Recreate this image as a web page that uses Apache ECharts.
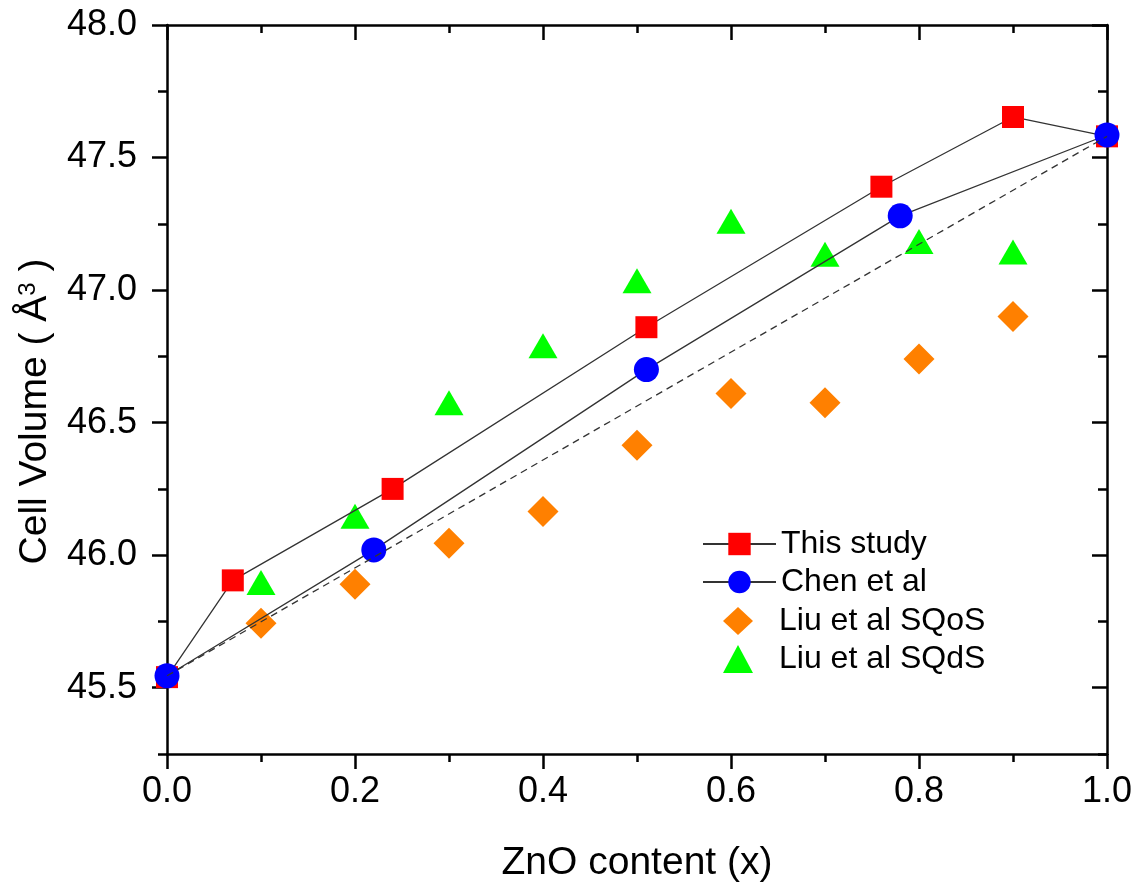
<!DOCTYPE html>
<html>
<head>
<meta charset="utf-8">
<script src="https://cdn.jsdelivr.net/npm/echarts@6/dist/echarts.min.js"></script>
<style>
html,body{margin:0;padding:0;background:#fff;}
#chart{width:1143px;height:888px;}
</style>
</head>
<body>
<div id="chart"></div>
<script>
// ---- data ----
const lineNames = ['This study', 'Chen et al'];
const scatterNames = ['Liu et al SQoS', 'Liu et al SQdS'];
const thisX = [0, 0.07, 0.24, 0.51, 0.76, 0.9, 1.0];
const thisY = [45.54, 45.905, 46.25, 46.86, 47.39, 47.653, 47.58];
const chenX = [0, 0.22, 0.51, 0.78, 1.0];
const chenY = [45.545, 46.02, 46.70, 47.28, 47.585];
const liuX = [0.1, 0.2, 0.3, 0.4, 0.5, 0.6, 0.7, 0.8, 0.9];
const sqosY = [45.743, 45.89, 46.045, 46.165, 46.415, 46.61, 46.575, 46.74, 46.90];
const sqdsY = [45.897, 46.147, 46.575, 46.79, 47.035, 47.26, 47.135, 47.183, 47.144];
const vegardX = [0, 1.0];
const vegardY = [45.545, 47.58];
const xTicks = [0, 0.2, 0.4, 0.6, 0.8, 1.0];
const yMajor = [45.5, 46.0, 46.5, 47.0, 47.5, 48.0];
const yMinor = [45.25, 45.75, 46.25, 46.75, 47.25, 47.75];

const zip = (xs, ys) => xs.map((x, i) => [x, ys[i]]);

const FONT = 'Liberation Sans, Arial, sans-serif';
const AX = {color: '#000', width: 2.5};

const yBase = {
  type: 'value', min: 45.25, max: 48.0, interval: 0.25,
  splitLine: {show: false}
};
const xBase = {
  type: 'value', min: xTicks[0], max: xTicks[xTicks.length - 1], interval: 0.2,
  splitLine: {show: false}
};

const chart = echarts.init(document.getElementById('chart'), null, {renderer: 'canvas'});
chart.setOption({
  backgroundColor: '#fff',
  animation: false,
  grid: {left: 167, right: 36, top: 25, bottom: 131, containLabel: false},
  legend: [
    {
      data: lineNames,
      orient: 'vertical',
      left: 697, top: 523,
      itemWidth: 73, itemHeight: 28, itemGap: 6,
      textStyle: {fontFamily: FONT, fontSize: 32, color: '#000', lineHeight: 32}
    },
    {
      data: scatterNames,
      orient: 'vertical',
      left: 718, top: 600,
      itemWidth: 30, itemHeight: 28, itemGap: 6,
      textStyle: {fontFamily: FONT, fontSize: 32, color: '#000', lineHeight: 32, padding: [0, 0, 0, 21]}
    }
  ],
  xAxis: [
    Object.assign({}, xBase, {
      position: 'bottom',
      name: 'ZnO content (x)', nameLocation: 'middle', nameGap: 90,
      nameTextStyle: {fontFamily: FONT, fontSize: 39, color: '#000'},
      axisLine: {show: true, lineStyle: AX},
      axisTick: {show: true, inside: false, length: 15, lineStyle: AX},
      minorTick: {show: true, splitNumber: 2, length: 8, lineStyle: AX},
      axisLabel: {fontFamily: FONT, fontSize: 36, color: '#000', margin: 20,
        formatter: v => v.toFixed(1)}
    }),
    Object.assign({}, xBase, {
      position: 'top',
      axisLine: {show: true, lineStyle: AX},
      axisTick: {show: true, inside: true, length: 15, lineStyle: AX},
      minorTick: {show: true, splitNumber: 2, length: 8, lineStyle: AX},
      axisLabel: {show: false}
    })
  ],
  yAxis: [
    Object.assign({}, yBase, {
      position: 'left',
      name: 'Cell Volume ( Å{s|3} )', nameLocation: 'middle', nameGap: 112, nameRotate: 90,
      nameTextStyle: {fontFamily: FONT, fontSize: 39, color: '#000', padding: [0, 44, 0, 0],
        rich: {s: {fontFamily: FONT, fontSize: 24, color: '#000', verticalAlign: 'top'}}},
      axisLine: {show: true, lineStyle: AX},
      axisTick: {show: true, inside: false, length: 15, lineStyle: AX, customValues: yMajor},
      axisLabel: {fontFamily: FONT, fontSize: 36, color: '#000', margin: 30,
        customValues: yMajor, formatter: v => v.toFixed(1)}
    }),
    Object.assign({}, yBase, {
      position: 'left',
      axisLine: {show: false},
      axisTick: {show: true, inside: false, length: 9, lineStyle: AX, customValues: yMinor},
      axisLabel: {show: false}
    }),
    Object.assign({}, yBase, {
      position: 'right',
      axisLine: {show: true, lineStyle: AX},
      axisTick: {show: true, inside: true, length: 15, lineStyle: AX, customValues: yMajor},
      axisLabel: {show: false}
    }),
    Object.assign({}, yBase, {
      position: 'right',
      axisLine: {show: false},
      axisTick: {show: true, inside: true, length: 9, lineStyle: AX, customValues: yMinor},
      axisLabel: {show: false}
    })
  ],
  series: [
    {
      name: 'This study', type: 'line', data: zip(thisX, thisY),
      symbol: 'rect', symbolSize: 22, showAllSymbol: true,
      itemStyle: {color: '#ff0000'},
      lineStyle: {color: '#333', width: 1.3},
      z: 3
    },
    {
      name: 'Chen et al', type: 'line', data: zip(chenX, chenY),
      symbol: 'circle', symbolSize: 25, showAllSymbol: true,
      itemStyle: {color: '#0000ff'},
      lineStyle: {color: '#333', width: 1.3},
      z: 4
    },
    {
      name: 'Liu et al SQoS', type: 'scatter', data: zip(liuX, sqosY),
      symbol: 'diamond', symbolSize: [31, 31],
      itemStyle: {color: '#ff8000', opacity: 1},
      z: 2
    },
    {
      name: 'Liu et al SQdS', type: 'scatter', data: zip(liuX, sqdsY),
      symbol: 'triangle', symbolSize: [29, 25],
      itemStyle: {color: '#00ff00', opacity: 1},
      z: 2
    },
    {
      name: 'Vegard', type: 'line', data: zip(vegardX, vegardY),
      symbol: 'none',
      lineStyle: {color: '#333', width: 1.3, type: [7, 5]},
      z: 5
    }
  ]
});
</script>
</body>
</html>
